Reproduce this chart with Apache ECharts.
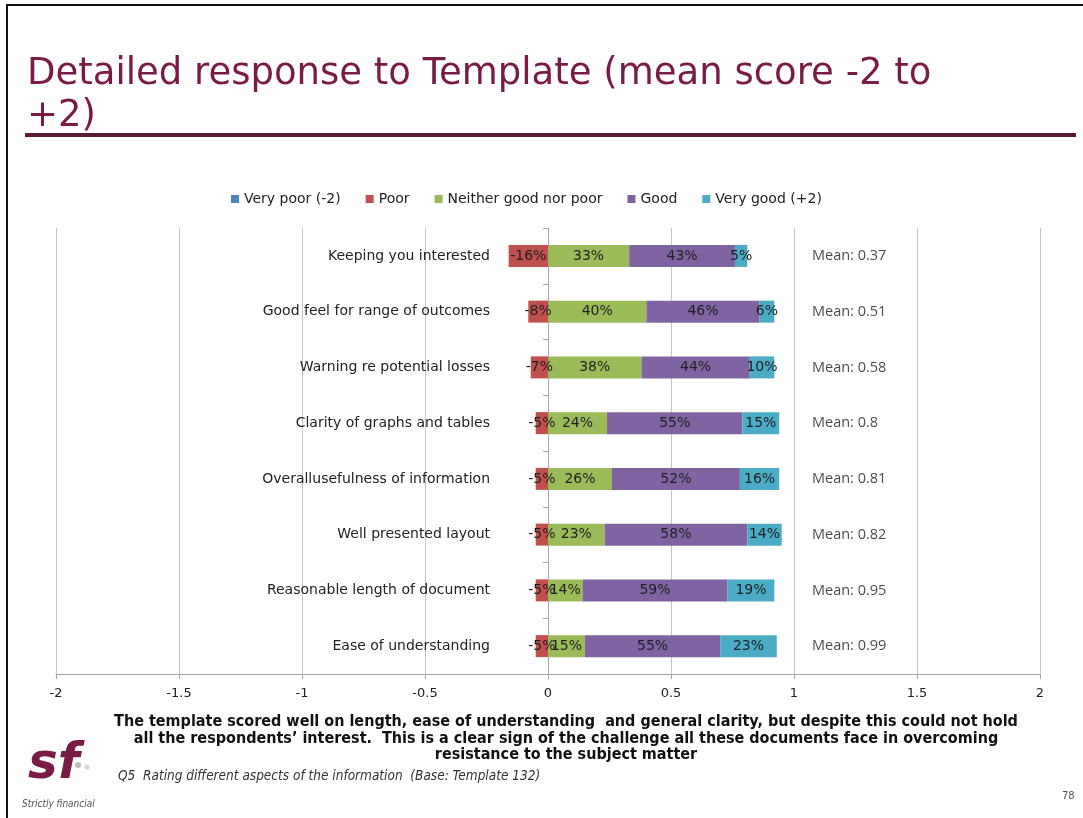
<!DOCTYPE html>
<html>
<head>
<meta charset="utf-8">
<script src="https://cdn.jsdelivr.net/npm/echarts@6/dist/echarts.min.js"></script>
<style>
  html, body { margin: 0; padding: 0; background: #fff; }
  #chart { width: 1083px; height: 818px; }
</style>
</head>
<body>
<div id="chart"></div>
<script>
// categories, top to bottom
const categories = [
  "Keeping you interested",
  "Good feel for range of outcomes",
  "Warning re potential losses",
  "Clarity of graphs and tables",
  "Overallusefulness of information",
  "Well presented layout",
  "Reasonable length of document",
  "Ease of understanding"
];
// percentages (poor shown negative)
const veryPoor = [0, 0, 0, 0, 0, 0, 0, 0];
const poor = [-16, -8, -7, -5, -5, -5, -5, -5];
const neither = [33, 40, 38, 24, 26, 23, 14, 15];
const good = [43, 46, 44, 55, 52, 58, 59, 55];
const veryGood = [5, 6, 10, 15, 16, 14, 19, 23];
const means = [0.37, 0.51, 0.58, 0.8, 0.81, 0.82, 0.95, 0.99];
const xTicks = [-2, -1.5, -1, -0.5, 0, 0.5, 1, 1.5, 2];

const seriesNames = ["Very poor (-2)", "Poor", "Neither good nor poor", "Good", "Very good (+2)"];
const colors = ["#4f81bd", "#c0504d", "#9bbb59", "#8064a2", "#4bacc6"];
const MEAN_X = 1.073; // where the mean notes sit

const FONT = "DejaVu Sans";
const NARROW = "'Liberation Sans Narrow', 'DejaVu Sans Condensed', sans-serif";

function barSeries(name, values, showLabel) {
  return {
    name: name,
    type: "bar",
    stack: "total",
    barWidth: 22,
    data: values.map((v) => v / 100),
    label: {
      show: showLabel,
      position: "inside",
      color: "#1e1e1e",
      fontFamily: FONT,
      fontSize: 14,
      formatter: (p) => Math.round(p.value * 100) + "%",
    },
  };
}

const myChart = echarts.init(document.getElementById("chart"));
let option = {
  animation: false,
  color: colors,
  title: {
    text: "Detailed response to Template (mean score -2 to\n+2)",
    left: 22,
    top: 48,
    textStyle: {
      color: "#7a1a46",
      fontFamily: FONT,
      fontSize: 37,
      fontWeight: "normal",
      lineHeight: 42,
    },
  },
  legend: {
    data: seriesNames,
    left: 226,
    top: 187,
    icon: "rect",
    itemWidth: 8,
    itemHeight: 8,
    itemGap: 25,
    textStyle: { color: "#222", fontFamily: FONT, fontSize: 14 },
  },
  grid: { left: 56, right: 43, top: 228, bottom: 144, containLabel: false, outerBoundsMode: "none" },
  xAxis: {
    type: "value",
    min: xTicks[0],
    max: xTicks[xTicks.length - 1],
    interval: 0.5,
    axisLine: { show: true, lineStyle: { color: "#a6a6a6", width: 1 } },
    axisTick: { show: true, length: 5, lineStyle: { color: "#a6a6a6" } },
    splitLine: { show: true, lineStyle: { color: "#c4c4c4", width: 1 } },
    axisLabel: { color: "#222", fontFamily: FONT, fontSize: 13, margin: 13 },
  },
  yAxis: {
    type: "category",
    data: categories,
    inverse: true,
    axisLine: { show: true, onZero: true, lineStyle: { color: "#a6a6a6" } },
    axisTick: { show: true, length: 5, lineStyle: { color: "#a6a6a6" } },
    // labels stay at the grid edge, so pull them in next to the zero line
    axisLabel: { color: "#222", fontFamily: FONT, fontSize: 14, margin: -434 },
    splitLine: { show: false },
  },
  series: [
    barSeries(seriesNames[0], veryPoor, false),
    barSeries(seriesNames[1], poor, true),
    barSeries(seriesNames[2], neither, true),
    barSeries(seriesNames[3], good, true),
    barSeries(seriesNames[4], veryGood, true),
    {
      name: "Mean",
      type: "scatter",
      symbolSize: 0,
      silent: true,
      data: means.map((m, i) => [MEAN_X, i, m]),
      label: {
        show: true,
        position: "right",
        distance: 0,
        color: "#1a1a1a",
        fontFamily: "'Open Sans', 'Noto Sans', sans-serif",
        fontSize: 14.5,
        formatter: (p) => "Mean: " + p.value[2],
      },
    },
  ],
  graphic: [
    // slide frame
    { type: "rect", shape: { x: 6, y: 4, width: 1077, height: 2 }, style: { fill: "#111" } },
    { type: "rect", shape: { x: 6, y: 4, width: 2, height: 814 }, style: { fill: "#111" } },
    // title rule
    { type: "rect", shape: { x: 25, y: 133, width: 1051, height: 4 }, style: { fill: "#5b1a36" } },
    {
      type: "text",
      x: 566,
      y: 714,
      style: {
        text: "The template scored well on length, ease of understanding  and general clarity, but despite this could not hold\nall the respondents\u2019 interest.  This is a clear sign of the challenge all these documents face in overcoming\nresistance to the subject matter",
        align: "center",
        fill: "#111",
        font: "bold 16px " + NARROW,
        lineHeight: 16.5,
      },
    },
    {
      type: "text",
      left: 118,
      top: 769,
      style: {
        text: "Q5  Rating different aspects of the information  (Base: Template 132)",
        fill: "#333",
        font: "italic 13.5px " + NARROW,
      },
    },
    // logo
    {
      type: "text",
      left: 28,
      top: 740,
      style: { text: "sf", fill: "#7a1a46", font: "italic bold 50px 'DejaVu Sans'" },
    },
    { type: "circle", shape: { cx: 78, cy: 765, r: 3 }, style: { fill: "#b9b9b9" } },
    { type: "circle", shape: { cx: 87, cy: 767, r: 2.5 }, style: { fill: "#d6d6d6" } },
    {
      type: "text",
      left: 22,
      top: 799,
      style: { text: "Strictly financial", fill: "#555", font: "italic 10px " + NARROW },
    },
    {
      type: "text",
      left: 1062,
      top: 791,
      style: { text: "78", fill: "#555", font: "10px 'DejaVu Sans'" },
    },
  ],
};
option && myChart.setOption(option);
window.addEventListener("resize", () => {
  myChart.resize();
});
</script>
</body>
</html>
